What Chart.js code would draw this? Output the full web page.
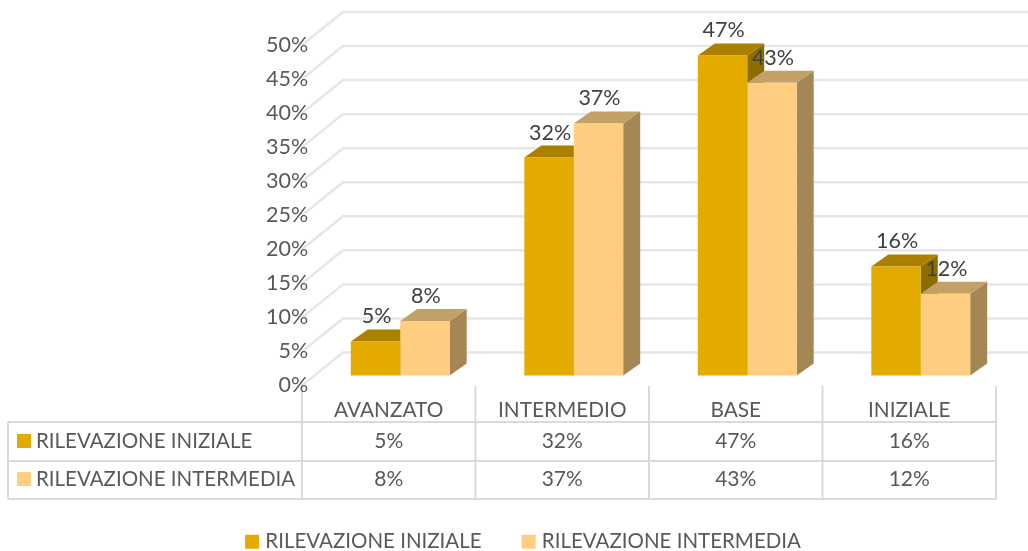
<!DOCTYPE html>
<html>
<head>
<meta charset="utf-8">
<style>html,body{margin:0;padding:0;background:#fff}#wrap{width:1028px;height:551px}</style>
<script src="https://cdn.jsdelivr.net/npm/chart.js@4"></script>
</head>
<body>
<div id="wrap"><canvas id="c" width="1028" height="551"></canvas></div>
<script>
const categories = ["AVANZATO", "INTERMEDIO", "BASE", "INIZIALE"];
const seriesNames = ["RILEVAZIONE INIZIALE", "RILEVAZIONE INTERMEDIA"];
const iniziale = [5, 32, 47, 16];
const intermedia = [8, 37, 43, 12];
const frontColors = ["#E3AA00", "#FFCE80"];
const topColors = ["#AA8000", "#C3A068"];
const sideColors = ["#8C6D00", "#A58755"];
const seriesValues = [iniziale, intermedia];

const FONT = "Lato, 'Open Sans', sans-serif";
const TEXT = "#595959", LABEL = "#404040", GRID = "#E6E6E6", TABLE = "#DADADA";
const PAD_L = 54, PAD_R = 32, PAD_T = 45, PAD_B = -11;
const AXIS_LEFT = 302, AXIS_BOTTOM = 385;
const BACK_DX = 41, BACK_DY = -33, BAR_DX = 11.5, BAR_DY = -10, SIDE_DX = 17, SIDE_DY = -12;
const TABLE_LEFT = 8, TABLE_TOP = 422, TABLE_MID = 461, TABLE_BOTTOM = 499, TABLE_RIGHT = 996;

function line(ctx, pts, color, w) {
  ctx.strokeStyle = color; ctx.lineWidth = w; ctx.lineJoin = "miter";
  ctx.beginPath();
  pts.forEach((p, i) => i ? ctx.lineTo(p[0], p[1]) : ctx.moveTo(p[0], p[1]));
  ctx.stroke();
}
function poly(ctx, pts, color) {
  ctx.fillStyle = color;
  ctx.beginPath();
  pts.forEach((p, i) => i ? ctx.lineTo(p[0], p[1]) : ctx.moveTo(p[0], p[1]));
  ctx.closePath(); ctx.fill();
}

const plugin3d = {
  id: "plugin3d",
  beforeDraw(chart) {
    const ctx = chart.ctx, y = chart.scales.y, x = chart.scales.x;
    ctx.save();
    y.ticks.forEach(t => {
      const p = y.getPixelForValue(t.value);
      line(ctx, [[AXIS_LEFT, p], [AXIS_LEFT + BACK_DX, p + BACK_DY], [1028, p + BACK_DY]], GRID, 2.5);
    });
    // table frame
    [TABLE_TOP, TABLE_MID, TABLE_BOTTOM].forEach(v => line(ctx, [[TABLE_LEFT, v], [TABLE_RIGHT, v]], TABLE, 2));
    line(ctx, [[TABLE_LEFT, TABLE_TOP], [TABLE_LEFT, TABLE_BOTTOM]], TABLE, 2);
    const step = x.getPixelForValue(1) - x.getPixelForValue(0);
    categories.forEach((c, i) => {
      const left = x.getPixelForValue(i) - step / 2;
      line(ctx, [[left, 386], [left, TABLE_BOTTOM]], TABLE, 2);
    });
    line(ctx, [[TABLE_RIGHT, 386], [TABLE_RIGHT, TABLE_BOTTOM]], TABLE, 2);
    ctx.restore();
  },
  beforeDatasetsDraw(chart) {
    const ctx = chart.ctx;
    ctx.save();
    ctx.translate(BAR_DX, BAR_DY);
    seriesValues.forEach((vals, d) => {
      chart.getDatasetMeta(d).data.forEach(el => {
        const l = el.x - el.width / 2, r = el.x + el.width / 2, t = el.y, b = el.base;
        poly(ctx, [[r, t], [r + SIDE_DX, t + SIDE_DY], [r + SIDE_DX, b + SIDE_DY], [r, b]], sideColors[d]);
        poly(ctx, [[l, t], [l + SIDE_DX, t + SIDE_DY], [r + SIDE_DX, t + SIDE_DY], [r, t]], topColors[d]);
      });
    });
  },
  afterDatasetsDraw(chart) {
    const ctx = chart.ctx;
    ctx.restore();
    ctx.save();
    ctx.textAlign = "center"; ctx.textBaseline = "middle";
    ctx.font = "21.5px " + FONT; ctx.fillStyle = LABEL;
    seriesValues.forEach((vals, d) => {
      chart.getDatasetMeta(d).data.forEach((el, i) => {
        ctx.fillText(vals[i] + "%", el.x + BAR_DX + 1, el.y + BAR_DY - 25);
      });
    });
    // data table
    const x = chart.scales.x;
    const rows = [441.5, 479.5];
    ctx.fillStyle = TEXT;
    ctx.font = "21px " + FONT;
    seriesValues.forEach((vals, d) => {
      vals.forEach((v, i) => ctx.fillText(v + "%", x.getPixelForValue(i), rows[d]));
    });
    ctx.textAlign = "left";
    ctx.font = "20.5px " + FONT;
    seriesNames.forEach((n, d) => {
      ctx.fillStyle = frontColors[d];
      ctx.fillRect(17, Math.floor(rows[d]) - 7, 14, 14);
      ctx.fillStyle = TEXT;
      ctx.fillText(n, 36, rows[d]);
    });
    ctx.restore();
  }
};

new Chart(document.getElementById("c"), {
  type: "bar",
  data: {
    labels: categories,
    datasets: seriesNames.map((n, d) => ({
      label: n,
      data: seriesValues[d],
      backgroundColor: frontColors[d],
      borderWidth: 0,
      clip: false
    }))
  },
  plugins: [plugin3d],
  options: {
    responsive: false,
    animation: false,
    devicePixelRatio: 1,
    categoryPercentage: 0.57,
    barPercentage: 1,
    layout: { padding: { left: PAD_L, right: PAD_R, top: PAD_T, bottom: PAD_B } },
    plugins: {
      tooltip: { enabled: false },
      legend: {
        display: true,
        position: "bottom",
        labels: {
          boxWidth: 6, boxHeight: 6, padding: 44, color: TEXT,
          font: { family: FONT, size: 20.5 },
          generateLabels: chart => chart.data.datasets.map((ds, i) => ({
            text: ds.label, fillStyle: frontColors[i], strokeStyle: frontColors[i],
            lineWidth: 8, datasetIndex: i, fontColor: TEXT
          }))
        }
      }
    },
    scales: {
      x: {
        grid: { display: false, drawTicks: false },
        border: { display: false },
        ticks: { color: TEXT, font: { family: FONT, size: 20.8 }, padding: 12, maxRotation: 0 },
        afterFit(s) { s.height = 102; }
      },
      y: {
        min: 0, max: 50,
        grid: { display: false, drawTicks: false },
        border: { display: false },
        ticks: { stepSize: 5, color: TEXT, font: { family: FONT, size: 21.5 }, mirror: true, crossAlign: "far", padding: -36, callback: v => v + "%" },
        afterFit(s) { s.width = AXIS_LEFT - PAD_L; }
      }
    }
  }
});
</script>
</body>
</html>
